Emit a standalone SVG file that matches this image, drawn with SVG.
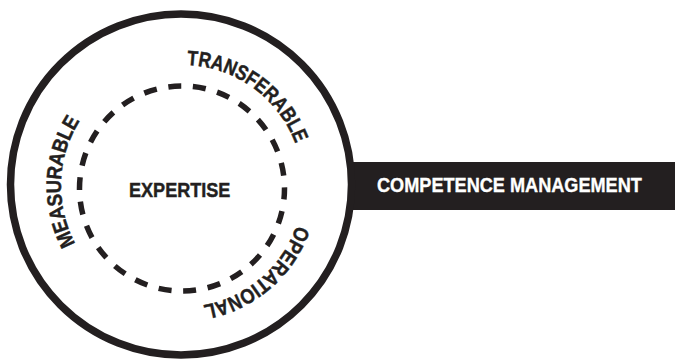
<svg xmlns="http://www.w3.org/2000/svg" xmlns:xlink="http://www.w3.org/1999/xlink" width="677" height="359" viewBox="0 0 677 359">
  <style>
    .ink { fill: #231f20; }
    .label { font-family: "Liberation Sans", Arial, sans-serif; font-weight: bold; font-size: 21px; }
    .dark { fill: #231f20; stroke: #231f20; stroke-width: 0.45; }
    .light { fill: #ffffff; stroke: #ffffff; stroke-width: 0.35; }
  </style>
  <defs>
    <!-- clockwise circle for the curved labels, starting at the rightmost point -->
    <path id="ring" d="M 303 186 A 121 121 0 1 1 61 186 A 121 121 0 1 1 303 186 Z"/>
  </defs>
  <rect width="677" height="359" fill="#ffffff"/>

  <g id="competence-management">
    <rect x="350" y="162" width="325" height="48" class="ink"/>
    <!-- condensed lettering: horizontal squeeze of the bold face -->
    <text transform="translate(377 191.7) scale(0.8637 1)" class="label light">COMPETENCE MANAGEMENT</text>
  </g>

  <g id="outer-ring">
    <circle cx="181" cy="184.5" r="170.5" fill="none" stroke="#231f20" stroke-width="7.5"/>
  </g>

  <g id="expertise">
    <circle cx="182" cy="188.5" r="102.5" fill="none" stroke="#231f20" stroke-width="5.5" stroke-dasharray="13 11.77" stroke-dashoffset="2"/>
    <text transform="translate(129 196.7) scale(0.861 1)" class="label dark">EXPERTISE</text>
  </g>

  <g id="qualities" class="label dark">
    <text><textPath xlink:href="#ring" href="#ring" startOffset="40" textLength="129" lengthAdjust="spacingAndGlyphs">OPERATIONAL</textPath></text>
    <text><textPath xlink:href="#ring" href="#ring" startOffset="320" textLength="129" lengthAdjust="spacingAndGlyphs">MEASURABLE</textPath></text>
    <text><textPath xlink:href="#ring" href="#ring" startOffset="575" textLength="142" lengthAdjust="spacingAndGlyphs">TRANSFERABLE</textPath></text>
  </g>
</svg>
